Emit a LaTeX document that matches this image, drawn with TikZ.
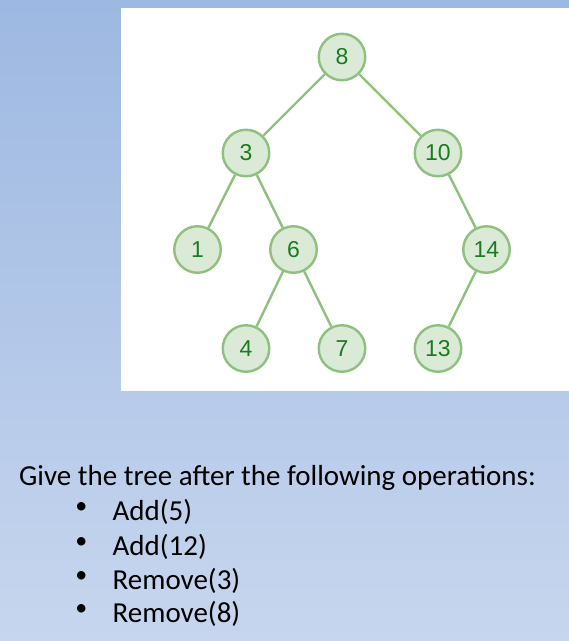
\documentclass[tikz,border=0pt]{standalone}
\usepackage{fontspec}
\setmainfont{Carlito}
\newfontfamily\nodefont{Liberation Sans}
\definecolor{bgtop}{HTML}{9DB8E2}
\definecolor{bgbot}{HTML}{C7D6EE}
\definecolor{nodefill}{HTML}{DAEAD6}
\definecolor{nodeline}{HTML}{8EC07E}
\definecolor{nodetext}{HTML}{1B7A22}
\tikzset{
  tnode/.style={circle, draw=nodeline, fill=nodefill, line width=2.4pt,
    minimum size=46.5pt, inner sep=0pt, text=nodetext,
    font=\nodefont\fontsize{23}{23}\selectfont},
  tedge/.style={draw=nodeline, line width=2.4pt},
  optext/.style={anchor=base west, inner sep=0pt, text=black,
    font=\fontsize{29}{34}\selectfont},
  bul/.style={anchor=center, inner sep=0pt, text=black,
    font=\fontsize{24}{24}\selectfont}
}
\begin{document}
\begin{tikzpicture}[x=1pt,y=-1pt]
\useasboundingbox (0,0) rectangle (569,641);
\shade[top color=bgtop, bottom color=bgbot] (0,0) rectangle (569,641);
\fill[white] (121,7.5) rectangle (569,391);
% tree nodes
\node[tnode] (n8) at (342,57) {8};
\node[tnode] (n3) at (246,153) {3};
\node[tnode] (n10) at (438,153) {10};
\node[tnode] (n1) at (197.5,249.5) {1};
\node[tnode] (n6) at (293.5,249.5) {6};
\node[tnode] (n14) at (486.5,249.5) {14};
\node[tnode] (n4) at (246,348.5) {4};
\node[tnode] (n7) at (342,348.5) {7};
\node[tnode] (n13) at (438,348.5) {13};
% edges
\path[tedge] (n8) -- (n3);
\path[tedge] (n8) -- (n10);
\path[tedge] (n3) -- (n1);
\path[tedge] (n3) -- (n6);
\path[tedge] (n6) -- (n4);
\path[tedge] (n6) -- (n7);
\path[tedge] (n10) -- (n14);
\path[tedge] (n14) -- (n13);
% text
\node[optext] (q) at (19,485) {Give the tree after the following operations:};
\node[bul] (b1) at (81.3,508.5) {•};
\node[optext] (o1) at (112.5,520) {Add(5)};
\node[bul] (b2) at (81.3,543) {•};
\node[optext] (o2) at (112.5,555) {Add(12)};
\node[bul] (b3) at (81.3,577) {•};
\node[optext] (o3) at (112.5,589) {Remove(3)};
\node[bul] (b4) at (81.3,610.5) {•};
\node[optext] (o4) at (112.5,622.3) {Remove(8)};
\end{tikzpicture}
\end{document}
